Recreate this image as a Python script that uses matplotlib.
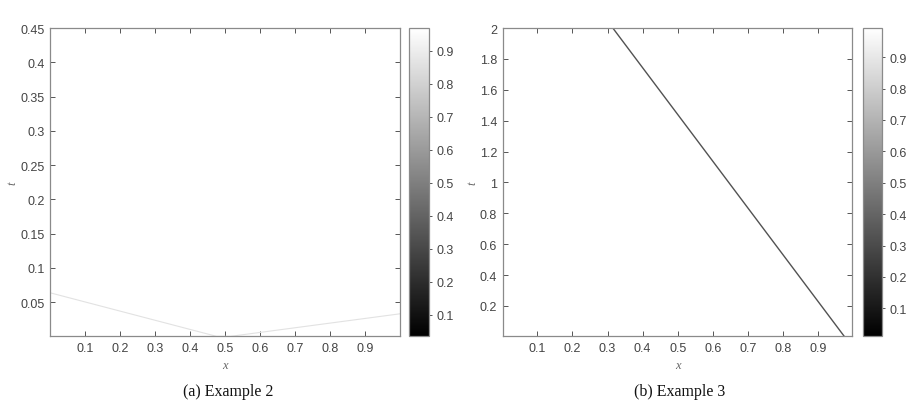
import matplotlib
matplotlib.use("Agg")
import matplotlib.pyplot as plt
import numpy as np
from matplotlib.colors import Normalize
from matplotlib.cm import ScalarMappable

# ---- data ----
# Example 2: faint V-shaped front (x, t)
ex2_x = [0.0, 0.475, 0.515, 1.0]
ex2_t = [0.0636, 0.0, 0.0, 0.033]
ex2_level = 0.86          # grey value of the front
ex2_clim = (0.036, 0.969)
ex2_xlim = (0.0, 0.997)
ex2_ylim = (0.0005, 0.45)
ex2_yticks = [0.05, 0.1, 0.15, 0.2, 0.25, 0.3, 0.35, 0.4, 0.45]
ex2_ylabels = ["0.05", "0.1", "0.15", "0.2", "0.25", "0.3", "0.35", "0.4", "0.45"]

# Example 3: straight dark front (x, t)
ex3_x = [0.315, 0.975]
ex3_t = [2.0, 0.0]
ex3_level = 0.33
ex3_clim = (0.012, 0.993)
ex3_xlim = (0.0015, 0.997)
ex3_ylim = (0.005, 2.0)
ex3_yticks = [0.2, 0.4, 0.6, 0.8, 1.0, 1.2, 1.4, 1.6, 1.8, 2.0]
ex3_ylabels = ["0.2", "0.4", "0.6", "0.8", "1", "1.2", "1.4", "1.6", "1.8", "2"]

xticks = [0.1, 0.2, 0.3, 0.4, 0.5, 0.6, 0.7, 0.8, 0.9]
xticklabels = ["0.1", "0.2", "0.3", "0.4", "0.5", "0.6", "0.7", "0.8", "0.9"]
cbar_ticks = [0.1, 0.2, 0.3, 0.4, 0.5, 0.6, 0.7, 0.8, 0.9]
cbar_labels = ["0.1", "0.2", "0.3", "0.4", "0.5", "0.6", "0.7", "0.8", "0.9"]
captions = ["(a) Example 2", "(b) Example 3"]

W, H = 908, 406
fig = plt.figure(figsize=(W / 100, H / 100), dpi=100)

TICKC = "#444444"
EDGEC = "#8a8a8a"
sans = ["Liberation Sans", "DejaVu Sans"]
serif = ["Liberation Serif", "DejaVu Serif"]

def px(x0, y0, x1, y1):
    return [x0 / W, 1 - y1 / H, (x1 - x0) / W, (y1 - y0) / H]

panels = [
    dict(ax=px(50, 29, 399.5, 337), cb=px(409, 29, 429, 337),
         x=ex2_x, t=ex2_t, level=ex2_level, clim=ex2_clim, xlim=ex2_xlim,
         ylim=ex2_ylim, yticks=ex2_yticks, ylabels=ex2_ylabels, lw=0.8,
         cap=captions[0], capx=228, tx=12),
    dict(ax=px(502.7, 29, 852.3, 337), cb=px(862.7, 29, 881.7, 337),
         x=ex3_x, t=ex3_t, level=ex3_level, clim=ex3_clim, xlim=ex3_xlim,
         ylim=ex3_ylim, yticks=ex3_yticks, ylabels=ex3_ylabels, lw=1.0,
         cap=captions[1], capx=680, tx=472),
]

cmap = plt.get_cmap("gray")
for p in panels:
    ax = fig.add_axes(p["ax"])
    norm = Normalize(*p["clim"])
    ax.set_facecolor(cmap(norm(p["clim"][1])))
    ax.plot(p["x"], p["t"], color=cmap(norm(p["level"])), lw=p["lw"],
            solid_capstyle="butt")
    ax.set_xlim(*p["xlim"])
    ax.set_ylim(*p["ylim"])
    ax.set_xticks(xticks)
    ax.set_xticklabels(xticklabels, family=sans, fontsize=9, color=TICKC)
    ax.set_yticks(p["yticks"])
    ax.set_yticklabels(p["ylabels"], family=sans, fontsize=9, color=TICKC)
    ax.tick_params(direction="in", top=True, right=True, length=3.5,
                   width=0.7, color="#555555", pad=4)
    for s in ax.spines.values():
        s.set_color(EDGEC)
        s.set_linewidth(0.9)
    # axis labels
    axl = p["ax"]
    fig.text(axl[0] + axl[2] / 2, 1 - 366 / H, "x", ha="center", va="center",
             family=serif, style="italic", fontsize=9, color="#666666")
    fig.text(p["tx"] / W, 1 - 183 / H, "t", ha="center", va="center",
             family=serif, style="italic", fontsize=9, color="#666666",
             rotation=90)
    # colorbar
    cax = fig.add_axes(p["cb"])
    sm = ScalarMappable(norm=norm, cmap=cmap)
    cb = fig.colorbar(sm, cax=cax, ticks=cbar_ticks)
    cb.ax.set_yticklabels(cbar_labels, family=sans, fontsize=9, color=TICKC)
    cb.ax.tick_params(direction="out", length=2.5, width=0.7,
                      color="#555555", pad=3)
    cb.outline.set_edgecolor(EDGEC)
    cb.outline.set_linewidth(0.9)
    # caption
    fig.text(p["capx"] / W, 1 - 392 / H, p["cap"], ha="center", va="center",
             family=serif, fontsize=11.5, color="#111111")

fig.savefig("out.png", dpi=100)
